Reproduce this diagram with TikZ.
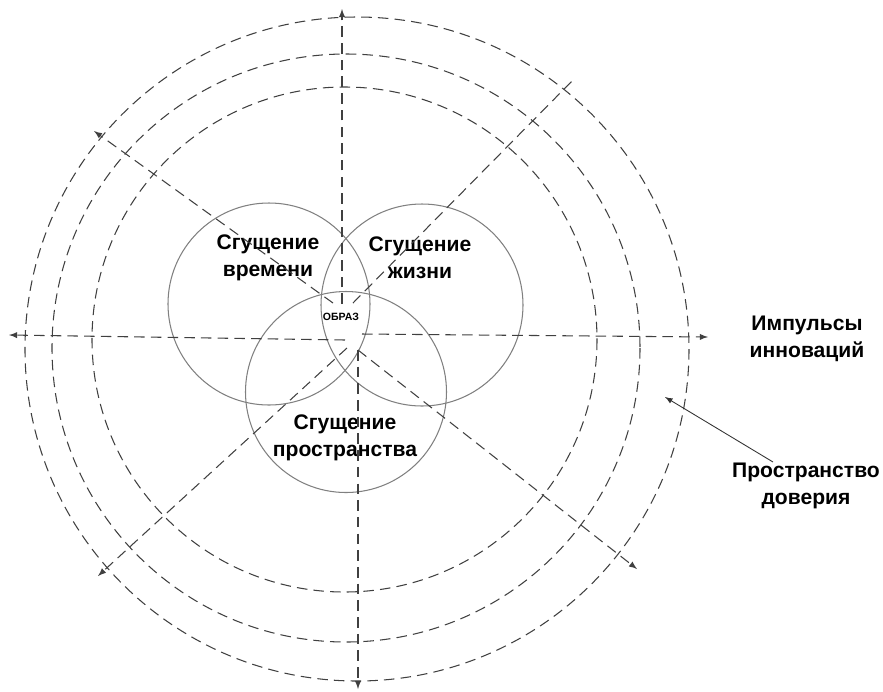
\documentclass[tikz,border=0pt]{standalone}
\usepackage{fontspec}
\setmainfont{Liberation Sans}
\usepackage{tikz}
\usepackage{xcolor}

\tikzset{
  ring/.style={draw=black!75, line width=0.6pt, dash pattern=on 6pt off 3.5pt},
  ray/.style={draw=black!75, line width=0.6pt, dash pattern=on 6pt off 3.5pt},
  zone/.style={draw=black!50, line width=0.6pt},
  lbl/.style={font=\fontsize{12}{15.4}\selectfont\bfseries, align=center, inner sep=0pt}
}

\begin{document}
\begin{tikzpicture}[x=0.02cm,y=-0.02cm]
\useasboundingbox (0,0) rectangle (883,691);

% trust space
\draw[ring] (357,349) circle [radius=332];
\draw[ring] (346,348) circle [radius=294];
\draw[ring] (344.5,339.5) circle [radius=252.5];

% three condensations
\draw[zone] (269,304) circle [radius=101];
\draw[zone] (422,305) circle [radius=101];
\draw[zone] (346,392) circle [radius=100.5];

\node[lbl](vremya) at (268,258){Сгущение\\времени};
\node[lbl](zhizn) at (420,258){Сгущение\\жизни};
\node[lbl](prostr) at (345,438){Сгущение\\пространства};
\node[font=\fontsize{6}{7}\selectfont\bfseries, inner sep=0pt](obraz) at (341,317){ОБРАЗ};
\node[lbl](impuls) at (807,339){Импульсы\\инноваций};
\node[lbl](doverie) at (806,486){Пространство\\доверия};

% impulses
\coordinate (u1) at (342,304);
\coordinate (u2) at (342,9);
\coordinate (d1) at (358,350);
\coordinate (d2) at (358,689);
\coordinate (l1) at (345,340);
\coordinate (l2) at (9,335);
\coordinate (r1) at (362,334);
\coordinate (r2) at (708,337);
\coordinate (ul1) at (333,303);
\coordinate (ul2) at (94,131);
\coordinate (ur1) at (353,303);
\coordinate (ur2) at (573,80);
\coordinate (dl1) at (347,348);
\coordinate (dl2) at (98,576);
\coordinate (dr1) at (358,350);
\coordinate (dr2) at (637,569);
\coordinate (dov0) at (773,462);
\coordinate (dov) at (665,397);

\draw [ray,->,>=latex](u1)--(u2);
\draw [ray,->,>=latex](d1)--(d2);
\draw [ray,->,>=latex](l1)--(l2);
\draw [ray,->,>=latex](r1)--(r2);
\draw [ray,->,>=latex](ul1)--(ul2);
\draw [ray](ur1)--(ur2);
\draw [ray,->,>=latex](dl1)--(dl2);
\draw [ray,->,>=latex](dr1)--(dr2);
\draw [->,>=latex,black!80,line width=0.5pt](dov0)--(dov);
\end{tikzpicture}
\end{document}
